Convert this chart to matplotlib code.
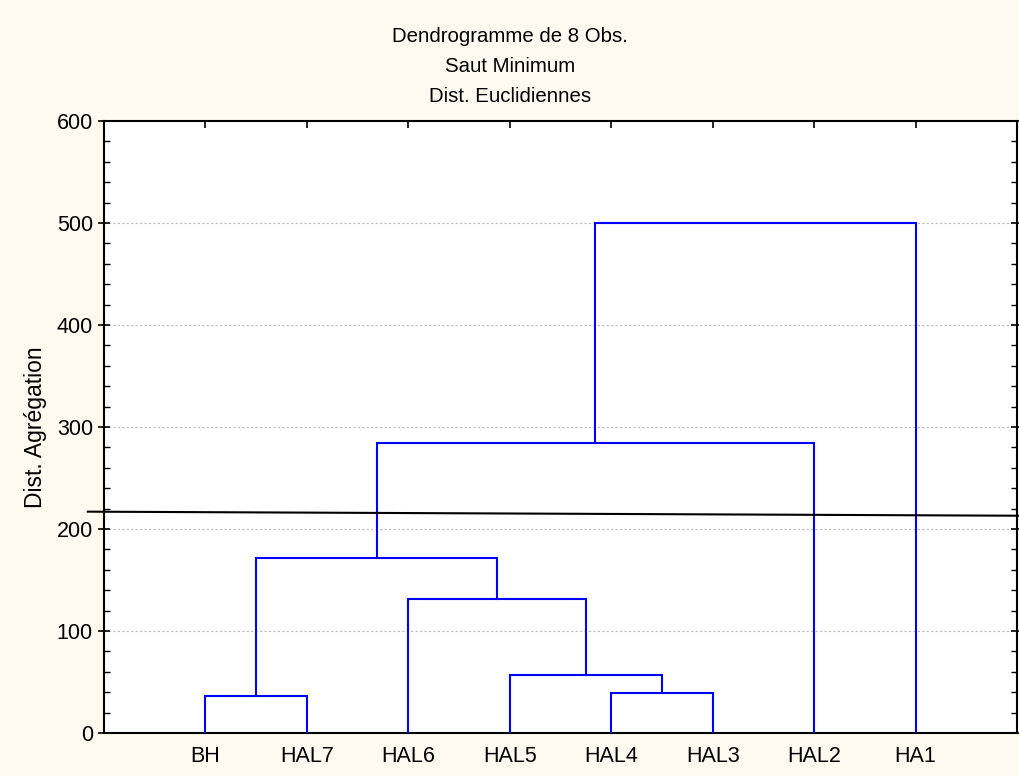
import matplotlib
matplotlib.use("Agg")
import matplotlib.pyplot as plt
from matplotlib.ticker import MultipleLocator

plt.rcParams['font.family'] = ['Liberation Sans', 'DejaVu Sans']

leaves = ["BH", "HAL7", "HAL6", "HAL5", "HAL4", "HAL3", "HAL2", "HA1"]
# merges: (left, right, height); ints < 8 are leaves, >= 8 are earlier clusters
merge_left = [0, 4, 3, 2, 8, 12, 13]
merge_right = [1, 5, 9, 10, 11, 6, 7]
merge_height = [36, 39, 57, 131, 172, 284, 500]
cut_level = [217, 213]

FS = 15.5
FS_TITLE = 14.7
FS_YLAB = 16.5

fig = plt.figure(figsize=(10.2, 7.76), dpi=100, facecolor='#FFFAF0')
ax = fig.add_axes([0.102, 0.0554, 0.895, 0.7887])
ax.set_facecolor('white')

pos = {i: float(i + 1) for i in range(len(leaves))}
hgt = {i: 0.0 for i in range(len(leaves))}
for k, (l, r, h) in enumerate(zip(merge_left, merge_right, merge_height)):
    xl, xr = pos[l], pos[r]
    ax.plot([xl, xl, xr, xr], [hgt[l], h, h, hgt[r]], color='#0000FF', lw=1.5,
            solid_joinstyle='miter', zorder=3)
    cid = len(leaves) + k
    pos[cid] = (xl + xr) / 2
    hgt[cid] = h

ax.plot([-0.16, 9.05], cut_level, color='black', lw=1.5, clip_on=False, zorder=4)

ax.set_xlim(0, 9)
ax.set_ylim(0, 600)
ax.set_xticks(range(1, len(leaves) + 1))
ax.set_xticklabels(leaves, fontsize=FS)
ax.yaxis.set_major_locator(MultipleLocator(100))
ax.yaxis.set_minor_locator(MultipleLocator(20))
ax.tick_params(axis='y', which='major', direction='inout', length=8, width=1.2,
               labelsize=FS, right=True, pad=4)
ax.tick_params(axis='y', which='minor', direction='in', length=4, width=1, right=True)
ax.tick_params(axis='x', which='major', direction='in', length=5, width=1.2, top=True,
               labelsize=FS, pad=9)
ax.grid(axis='y', which='major', color='#BBBBBB', ls=(0, (2, 2)), lw=0.8, zorder=0)
for s in ax.spines.values():
    s.set_linewidth(1.5)

ax.set_ylabel("Dist. Agrégation", fontsize=FS_YLAB, labelpad=7)

fig.text(0.5, 1 - 36 / 776, "Dendrogramme de 8 Obs.", ha='center', va='center', fontsize=FS_TITLE)
fig.text(0.5, 1 - 66 / 776, "Saut Minimum", ha='center', va='center', fontsize=FS_TITLE)
fig.text(0.5, 1 - 96 / 776, "Dist. Euclidiennes", ha='center', va='center', fontsize=FS_TITLE)

fig.savefig("out.png", dpi=100, facecolor=fig.get_facecolor())
